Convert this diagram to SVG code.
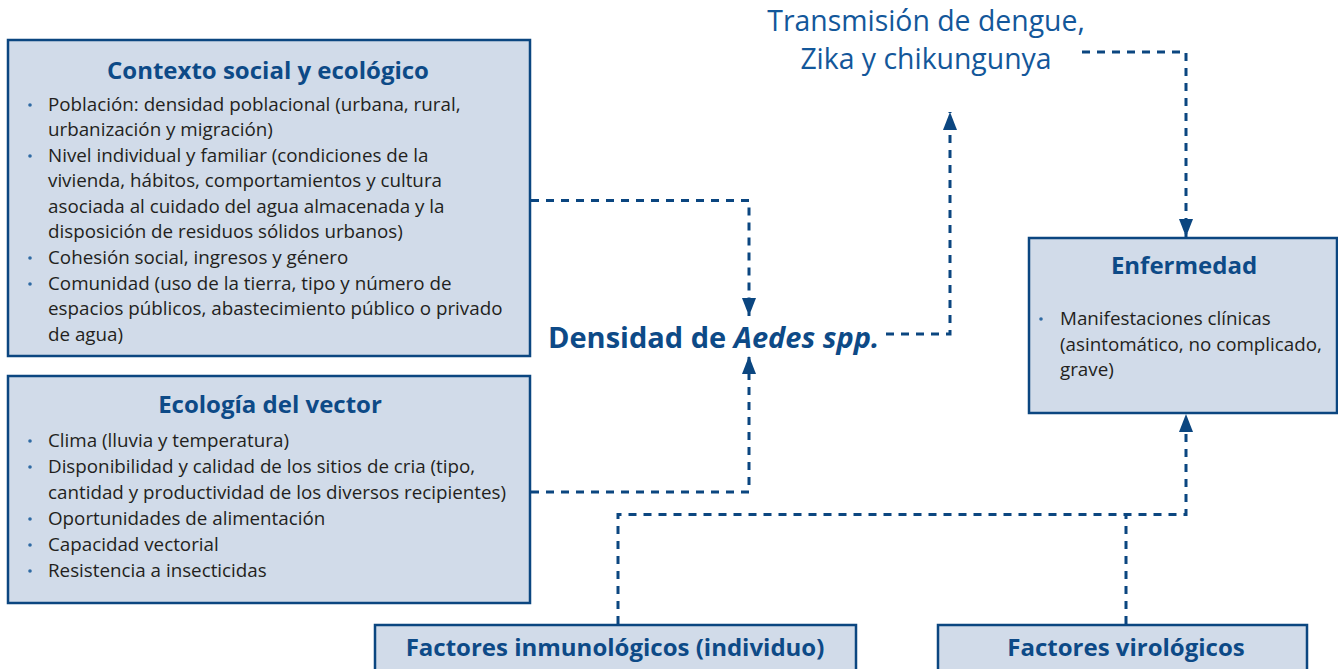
<svg xmlns="http://www.w3.org/2000/svg" width="1338" height="669" viewBox="0 0 1338 669">
<style>
.box{fill:#d1dbe9;stroke:#0b4680;stroke-width:2.5}
.title{font-family:"Open Sans","Noto Sans",sans-serif;font-weight:bold;font-size:24px;fill:#0d4a87;text-anchor:middle}
.body{font-family:"Open Sans","Noto Sans",sans-serif;font-size:18.8px;fill:#231f20}
.bul{fill:#2f6aa3}
.con{fill:none;stroke:#0b4680;stroke-width:3;stroke-dasharray:8 7}
.big{font-family:"Open Sans","Noto Sans",sans-serif;font-size:28.4px;fill:#13579a;text-anchor:middle}
.dens{font-family:"Open Sans","Noto Sans",sans-serif;font-weight:bold;font-size:29px;fill:#0d4a87}
</style>
<defs>
<marker id="ah" viewBox="0 0 18 14" refX="18" refY="7" markerWidth="18" markerHeight="14" markerUnits="userSpaceOnUse" orient="auto">
<path d="M0,0 L18,7 L0,14 Z" fill="#0b4680"/>
</marker>
</defs>
<g id="connectors">
<path class="con" d="M531,200.5 H749 V316" marker-end="url(#ah)"/>
<path class="con" d="M531,492 H749 V356" marker-end="url(#ah)"/>
<path class="con" d="M886,334 H950 V112" marker-end="url(#ah)"/>
<path class="con" d="M1082,52 H1186 V237" marker-end="url(#ah)"/>
<path class="con" d="M618,624 V514.5 H1186 V414" marker-end="url(#ah)"/>
<path class="con" d="M1126,624 V514.5"/>
</g>
<g id="contexto">
<rect class="box" x="8" y="40" width="522" height="316"/>
<text class="title" x="268" y="79">Contexto social y ecológico</text>
<g class="body">
<text x="48" y="111">Población: densidad poblacional (urbana, rural,</text>
<text x="48" y="136">urbanización y migración)</text>
<text x="48" y="162">Nivel individual y familiar (condiciones de la</text>
<text x="48" y="187">vivienda, hábitos, comportamientos y cultura</text>
<text x="48" y="213">asociada al cuidado del agua almacenada y la</text>
<text x="48" y="238">disposición de residuos sólidos urbanos)</text>
<text x="48" y="264">Cohesión social, ingresos y género</text>
<text x="48" y="290">Comunidad (uso de la tierra, tipo y número de</text>
<text x="48" y="315">espacios públicos, abastecimiento público o privado</text>
<text x="48" y="341">de agua)</text>
</g>
<g class="bul">
<circle cx="30" cy="105" r="1.8"/>
<circle cx="30" cy="156" r="1.8"/>
<circle cx="30" cy="258" r="1.8"/>
<circle cx="30" cy="284" r="1.8"/>
</g>
</g>
<g id="ecologia">
<rect class="box" x="8" y="376" width="522" height="227"/>
<text class="title" x="270" y="413">Ecología del vector</text>
<g class="body">
<text x="48" y="447">Clima (lluvia y temperatura)</text>
<text x="48" y="473">Disponibilidad y calidad de los sitios de cria (tipo,</text>
<text x="48" y="499">cantidad y productividad de los diversos recipientes)</text>
<text x="48" y="525">Oportunidades de alimentación</text>
<text x="48" y="551">Capacidad vectorial</text>
<text x="48" y="577">Resistencia a insecticidas</text>
</g>
<g class="bul">
<circle cx="30" cy="441" r="1.8"/>
<circle cx="30" cy="467" r="1.8"/>
<circle cx="30" cy="519" r="1.8"/>
<circle cx="30" cy="545" r="1.8"/>
<circle cx="30" cy="571" r="1.8"/>
</g>
</g>
<g id="densidad">
<text class="dens" x="548" y="348">Densidad de <tspan font-style="italic">Aedes spp.</tspan></text>
</g>
<g id="transmision">
<text class="big" x="926" y="31">Transmisión de dengue,</text>
<text class="big" x="926" y="69">Zika y chikungunya</text>
</g>
<g id="enfermedad">
<rect class="box" x="1029" y="238" width="308" height="175"/>
<text class="title" x="1184" y="274">Enfermedad</text>
<g class="body">
<text x="1060" y="325">Manifestaciones clínicas</text>
<text x="1060" y="351">(asintomático, no complicado,</text>
<text x="1060" y="376">grave)</text>
</g>
<circle class="bul" cx="1041" cy="319" r="1.8"/>
</g>
<g id="inmunologicos">
<rect class="box" x="375" y="625" width="481" height="60"/>
<text class="title" x="615" y="656">Factores inmunológicos (individuo)</text>
</g>
<g id="virologicos">
<rect class="box" x="938" y="625" width="369" height="60"/>
<text class="title" x="1126" y="656">Factores virológicos</text>
</g>
</svg>
